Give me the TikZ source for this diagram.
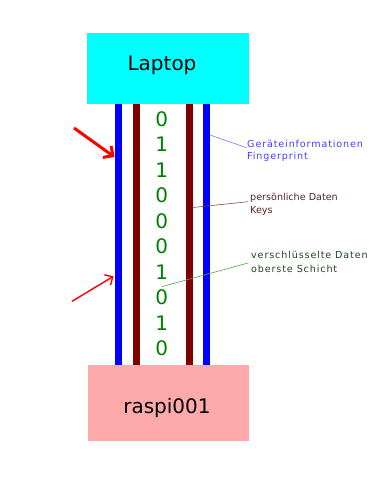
\documentclass[tikz,border=0pt]{standalone}
\usepackage{fontspec}
\setmainfont{DejaVu Sans}
\newfontfamily\spacedfont[LetterSpace=9]{DejaVu Sans}
\usetikzlibrary{arrows.meta}
\definecolor{cab}{RGB}{0,0,255}
\definecolor{lapcyan}{RGB}{0,255,255}
\definecolor{maroon}{RGB}{128,0,0}
\definecolor{digitgreen}{RGB}{0,128,0}
\definecolor{pinkbox}{RGB}{255,170,170}
\definecolor{bluetxt}{RGB}{64,64,255}
\definecolor{browntxt}{RGB}{85,34,34}
\definecolor{greentxt}{RGB}{34,68,34}
\tikzset{
  boxtext/.style={anchor=base, inner sep=0pt, font=\fontsize{20}{24}\selectfont},
  digit/.style={inner sep=0pt, text=digitgreen, font=\fontsize{20}{24}\selectfont},
  bluecab/.style={draw=cab, line width=6.5pt},
  redcab/.style={draw=maroon, line width=7pt},
  lbl/.style={anchor=base west, inner sep=0pt},
}
\begin{document}
\begin{tikzpicture}[x=1pt,y=-1pt]
\useasboundingbox (0,0) rectangle (374,480);
% boxes
\fill[lapcyan] (87,33) rectangle (249,104);
\node[boxtext] (laptop) at (162,70) {Laptop};
\fill[pinkbox] (88,365) rectangle (249,441);
\node[boxtext] (raspi) at (167,413) {raspi001};
% cables
\coordinate (b1t) at (118.5,104); \coordinate (b1b) at (118.5,365);
\coordinate (r1t) at (136.3,104); \coordinate (r1b) at (136.3,365);
\coordinate (r2t) at (189.2,104); \coordinate (r2b) at (189.2,365);
\coordinate (b2t) at (206.7,104); \coordinate (b2b) at (206.7,365);
\draw[bluecab] (b1t) -- (b1b);
\draw[redcab] (r1t) -- (r1b);
\draw[redcab] (r2t) -- (r2b);
\draw[bluecab] (b2t) -- (b2b);
% digits
\foreach \d [count=\i from 0] in {0,1,1,0,0,0,1,0,1,0}{
  \node[digit] (d\i) at (161.7,{119+25.5*\i}) {\d};
}
% labels
\node[lbl, text=bluetxt, font=\spacedfont\fontsize{9.6}{12}\selectfont] (l1a) at (247,147) {Geräteinformationen};
\node[lbl, text=bluetxt, font=\spacedfont\fontsize{9.6}{12}\selectfont] (l1b) at (247,159.5) {Fingerprint};
\node[lbl, text=browntxt, font=\fontsize{9.6}{12}\selectfont] (l2a) at (250,200) {persönliche Daten};
\node[lbl, text=browntxt, font=\fontsize{9.6}{12}\selectfont] (l2b) at (250,213) {Keys};
\node[lbl, text=greentxt, font=\spacedfont\fontsize{9.6}{12}\selectfont] (l3a) at (251,258.5) {verschlüsselte Daten};
\node[lbl, text=greentxt, font=\spacedfont\fontsize{9.6}{12}\selectfont] (l3b) at (251,272) {oberste Schicht};
% annotation lines
\coordinate (a1) at (210,135);
\coordinate (a1e) at (246.5,147.7);
\coordinate (a2) at (192.7,207.5);
\coordinate (a2e) at (248,201.7);
\coordinate (a3) at (161.7,286.7);
\coordinate (a3e) at (248,263);
\draw[draw=bluetxt!70, line width=0.6pt] (a1) -- (a1e);
\draw[draw=browntxt!80, line width=0.6pt] (a2) -- (a2e);
\draw[draw=digitgreen!70, line width=0.6pt] (a3) -- (a3e);
% red arrows
\coordinate (t1) at (74,128); \coordinate (h1) at (114.5,157);
\coordinate (t2) at (72,301.3); \coordinate (h2) at (113.5,276.3);
\draw[red, line width=3pt, -{Straight Barb[length=7pt,width=14pt,line width=3pt]}] (t1) -- (h1);
\draw[red, line width=1.4pt, -{Straight Barb[length=6pt,width=12pt,line width=1.4pt]}] (t2) -- (h2);
\end{tikzpicture}
\end{document}
